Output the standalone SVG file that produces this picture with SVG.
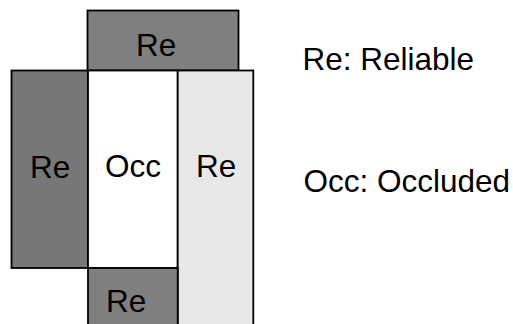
<svg xmlns="http://www.w3.org/2000/svg" width="513" height="324" viewBox="0 0 513 324">
  <style>
    .box { stroke: #000; stroke-width: 1.8; }
    .dark { fill: #7f7f7f; }
    .darker { fill: #777777; }
    .light { fill: #e8e8e8; }
    .clear { fill: #ffffff; }
    text { font-family: "Liberation Sans", Arial, sans-serif; font-size: 31.5px; fill: #000; }
  </style>
  <rect width="513" height="324" fill="#ffffff"/>
  <g id="top-re">
    <rect class="box dark" x="87.5" y="10.5" width="151" height="60"/>
    <text x="136" y="55.7">Re</text>
  </g>
  <g id="left-re">
    <rect class="box darker" x="11.5" y="70.5" width="76.5" height="197.5"/>
    <text x="30" y="177.5">Re</text>
  </g>
  <g id="occ">
    <rect class="box clear" x="88" y="70.5" width="89.7" height="197.5"/>
    <text x="105" y="177">Occ</text>
  </g>
  <g id="right-re">
    <rect class="box light" x="177.7" y="70.5" width="75.6" height="260"/>
    <text x="196" y="177.3">Re</text>
  </g>
  <g id="bottom-re">
    <rect class="box dark" x="88" y="268" width="89.7" height="60"/>
    <text x="106" y="311.7">Re</text>
  </g>
  <g id="connectors"></g>
  <g id="legend">
    <text x="302.5" y="69.5">Re: Reliable</text>
    <text x="303.5" y="192">Occ: Occluded</text>
  </g>
</svg>
